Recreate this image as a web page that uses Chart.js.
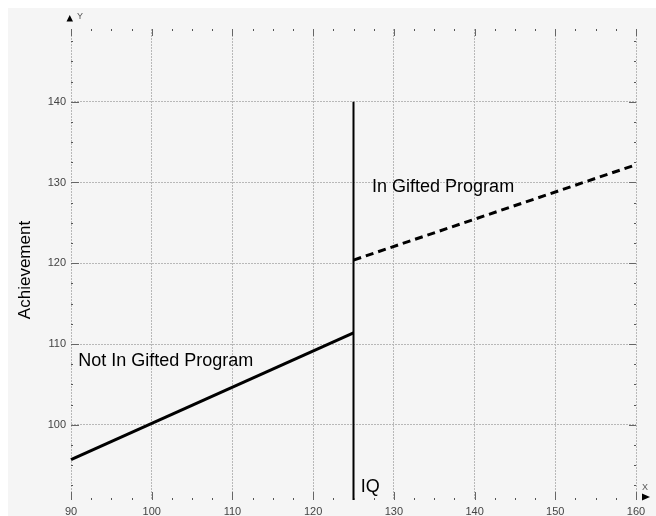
<!DOCTYPE html>
<html>
<head>
<meta charset="utf-8">
<script src="https://cdn.jsdelivr.net/npm/chart.js@4"></script>
<style>
  body { margin: 0; background: #ffffff; }
  #wrap { width: 656px; height: 516px; }
</style>
</head>
<body>
<div id="wrap"><canvas id="chart" width="656" height="516"></canvas></div>
<script>
// Chart values
const xTicks = [90, 100, 110, 120, 130, 140, 150, 160];
const yTicks = [100, 110, 120, 130, 140];
const minorStep = 2.5;

// Not in gifted program (solid)
const notGiftedIQ = [90, 125];
const notGiftedAch = [95.7, 111.4];

// In gifted program (dashed)
const giftedIQ = [125, 160];
const giftedAch = [120.4, 132.2];

// cutoff at IQ 125
const cutoffIQ = [125, 125];
const cutoffAch = [140, 90.7];

// text labels placed in data units
const notes = [
    { text: 'In Gifted Program', x: 127.3, y: 129.4 },
    { text: 'Not In Gifted Program', x: 90.9, y: 107.9 },
    { text: 'IQ', x: 125.9, y: 92.3 }
];

const FONT = '"Liberation Sans", Arial, sans-serif';

function toPoints(xs, ys) {
    return xs.map((x, i) => ({ x: x, y: ys[i] }));
}

// Panel background, inward ticks, arrows and text
const decorPlugin = {
    id: 'decor',
    beforeDraw(chart) {
        const ctx = chart.ctx;
        ctx.save();
        ctx.fillStyle = '#f5f5f5';
        ctx.fillRect(8, 8, chart.width - 8, chart.height - 8);
        ctx.restore();
    },
    afterDraw(chart) {
        const ctx = chart.ctx;
        const area = chart.chartArea;
        const xs = chart.scales.x;
        const ys = chart.scales.y;
        ctx.save();

        // minor ticks (small dots)
        ctx.fillStyle = '#555';
        for (let v = xs.min; v <= xs.max + 0.001; v += minorStep) {
            if (xTicks.includes(v)) continue;
            const px = Math.round(xs.getPixelForValue(v));
            ctx.fillRect(px, area.bottom - 2, 1, 2);
            ctx.fillRect(px, area.top, 1, 2);
        }
        for (let v = Math.ceil(ys.min / minorStep) * minorStep; v <= ys.max; v += minorStep) {
            if (yTicks.includes(v)) continue;
            const py = Math.round(ys.getPixelForValue(v));
            ctx.fillRect(area.left, py, 2, 1);
            ctx.fillRect(area.right - 2, py, 2, 1);
        }

        // major ticks (pointing inward)
        ctx.fillStyle = '#666';
        xTicks.forEach(v => {
            const px = Math.round(xs.getPixelForValue(v));
            ctx.fillRect(px, area.bottom - 8, 1, 8);
            ctx.fillRect(px, area.top, 1, 7);
        });
        yTicks.forEach(v => {
            const py = Math.round(ys.getPixelForValue(v));
            ctx.fillRect(area.left, py, 8, 1);
            ctx.fillRect(area.right - 7, py, 7, 1);
        });

        // axis arrows and names
        ctx.fillStyle = '#000';
        ctx.beginPath();
        ctx.moveTo(66.5, 21.5); ctx.lineTo(73, 21.5); ctx.lineTo(69.75, 15);
        ctx.closePath(); ctx.fill();
        ctx.beginPath();
        ctx.moveTo(642, 493.5); ctx.lineTo(642, 500.5); ctx.lineTo(650, 497);
        ctx.closePath(); ctx.fill();
        ctx.fillStyle = '#555';
        ctx.font = '9px ' + FONT;
        ctx.textBaseline = 'alphabetic';
        ctx.textAlign = 'left';
        ctx.fillText('Y', 77, 18.5);
        ctx.fillText('X', 642, 489.5);

        // annotations
        ctx.fillStyle = '#000';
        ctx.font = '18px ' + FONT;
        ctx.textBaseline = 'middle';
        notes.forEach(n => {
            ctx.fillText(n.text, xs.getPixelForValue(n.x), ys.getPixelForValue(n.y));
        });

        // y axis title
        ctx.font = '17px ' + FONT;
        ctx.translate(25, 270);
        ctx.rotate(-Math.PI / 2);
        ctx.textAlign = 'center';
        ctx.fillText('Achievement', 0, 0);
        ctx.restore();
    }
};

const gridStyle = {
    color: '#b8b8b8',
    lineWidth: 1,
    drawTicks: false
};

// in Chart.js v4 the dash of the grid lines lives in border.dash
const borderStyle = {
    display: false,
    dash: [2, 1]
};

new Chart(document.getElementById('chart'), {
    type: 'line',
    data: {
        datasets: [
            {
                data: toPoints(notGiftedIQ, notGiftedAch),
                borderColor: '#000',
                borderWidth: 3,
                pointRadius: 0,
                clip: false
            },
            {
                data: toPoints(giftedIQ, giftedAch),
                borderColor: '#000',
                borderWidth: 3,
                borderDash: [8, 5],
                pointRadius: 0,
                clip: false
            },
            {
                data: toPoints(cutoffIQ, cutoffAch),
                borderColor: '#000',
                borderWidth: 2,
                pointRadius: 0,
                clip: false
            }
        ]
    },
    options: {
        responsive: false,
        animation: false,
        layout: { padding: { top: 29, right: 20, left: 0, bottom: 0 } },
        plugins: {
            legend: { display: false },
            tooltip: { enabled: false }
        },
        scales: {
            x: {
                type: 'linear',
                min: 90,
                max: 160,
                afterBuildTicks: scale => { scale.ticks = xTicks.map(v => ({ value: v })); },
                afterFit: scale => { scale.height = 16; },
                grid: gridStyle,
                border: borderStyle,
                ticks: {
                    padding: 5,
                    color: '#444',
                    font: { family: FONT, size: 11 }
                }
            },
            y: {
                type: 'linear',
                min: 90.7,
                max: 149,
                afterBuildTicks: scale => { scale.ticks = yTicks.map(v => ({ value: v })); },
                afterFit: scale => { scale.width = 71; },
                grid: gridStyle,
                border: borderStyle,
                ticks: {
                    padding: 5,
                    color: '#444',
                    font: { family: FONT, size: 11 }
                }
            }
        }
    },
    plugins: [decorPlugin]
});
</script>
</body>
</html>
